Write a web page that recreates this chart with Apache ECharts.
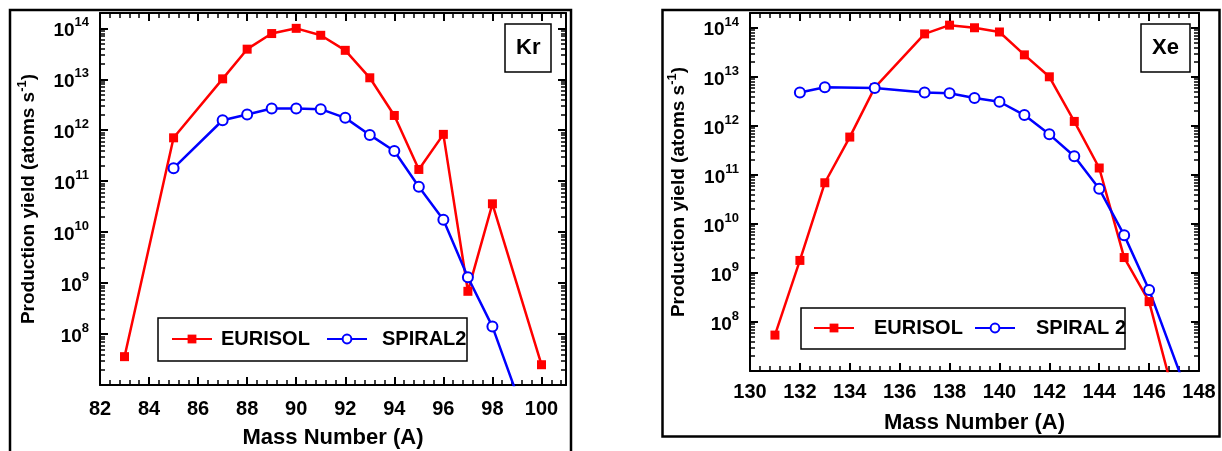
<!DOCTYPE html>
<html><head><meta charset="utf-8">
<script src="https://cdn.jsdelivr.net/npm/echarts@6/dist/echarts.min.js"></script>
<style>html,body{margin:0;padding:0;background:#fff}#c{width:1222px;height:451px}</style>
</head><body><div id="c"></div>
<script>
// ---- Data ----
const krMass = [83, 85, 87, 88, 89, 90, 91, 92, 93, 94, 95, 96, 97, 98, 100];
const krEurisol = [3.6e7, 7.1e11, 1.02e13, 3.9e13, 7.9e13, 1.0e14, 7.3e13, 3.7e13, 1.07e13, 1.95e12, 1.7e11, 8.3e11, 6.9e8, 3.6e10, 2.5e7];
const krSpiralMass = [85, 87, 88, 89, 90, 91, 92, 93, 94, 95, 96, 97, 98, 99];
const krSpiral = [1.8e11, 1.57e12, 2.03e12, 2.67e12, 2.67e12, 2.59e12, 1.75e12, 8.1e11, 3.9e11, 7.8e10, 1.75e10, 1.3e9, 1.4e8, 6.5e6];
const xeMass = [131, 132, 133, 134, 135, 137, 138, 139, 140, 141, 142, 143, 144, 145, 146, 147];
const xeEurisol = [5.4e7, 1.8e9, 6.9e10, 5.9e11, 6.0e12, 7.5e13, 1.13e14, 1.0e14, 8.2e13, 2.8e13, 1.0e13, 1.23e12, 1.38e11, 2.06e9, 2.6e8, 3e6];
const xeSpiralMass = [132, 133, 135, 137, 138, 139, 140, 141, 142, 143, 144, 145, 146, 148];
const xeSpiral = [4.8e12, 6.1e12, 5.9e12, 4.8e12, 4.6e12, 3.7e12, 3.1e12, 1.66e12, 6.7e11, 2.4e11, 5.2e10, 5.9e9, 4.5e8, 8e5];

const krRange = [82, 101];
const xeRange = [130, 148];
const yRange = [1e7, 2e14];
const panelTags = ['Kr', 'Xe'];
const legendNames = [['EURISOL', 'SPIRAL2'], ['EURISOL', 'SPIRAL 2']];
const xTitle = 'Mass Number (A)';

// minor tick positions of the log axis (2..9 x 10^n)
const logMinor = [];
for (let e = 7; e < 14; e++) for (let m = 2; m <= 9; m++) logMinor.push(m * Math.pow(10, e));

const FONT = 'Liberation Sans, Arial, sans-serif';
const zip = (a, b) => a.map((v, i) => [v, b[i]]);

const grids = [
  { left: 100, top: 13, width: 466, height: 372 },
  { left: 750, top: 13, width: 449, height: 358 }
];

function xAxes(gi, range, showMax) {
  const common = {
    type: 'value', gridIndex: gi, min: range[0], max: range[1], interval: 2,
    axisLine: { show: true, onZero: false, lineStyle: { color: '#000', width: 2 } },
    axisTick: { show: true, inside: true, length: 8, lineStyle: { color: '#000', width: 2 } },
    minorTick: { show: true, splitNumber: 5, length: 5, lineStyle: { color: '#000', width: 1.5 } },
    splitLine: { show: false }
  };
  return [
    Object.assign({}, common, {
      position: 'bottom',
      axisLabel: { show: true, showMaxLabel: showMax, margin: gi === 0 ? 14 : 11, color: '#000', fontSize: 20, fontWeight: 'bold', fontFamily: FONT },
      name: xTitle, nameLocation: 'middle', nameGap: gi === 0 ? 42 : 41,
      nameTextStyle: { color: '#000', fontSize: 22, fontWeight: 'bold', fontFamily: FONT }
    }),
    Object.assign({}, common, { position: 'top', axisLabel: { show: false } })
  ];
}

function yAxes(gi) {
  const common = {
    type: 'log', gridIndex: gi, min: yRange[0], max: yRange[1], interval: 1,
    axisLine: { show: true, onZero: false, lineStyle: { color: '#000', width: 2 } },
    axisTick: { show: true, inside: true, length: 8, lineStyle: { color: '#000', width: 2 } },
    splitLine: { show: false }, minorTick: { show: false }
  };
  const minor = {
    axisLine: { show: false, onZero: false }, axisLabel: { show: false },
    axisTick: { show: true, inside: true, length: 5, customValues: logMinor, lineStyle: { color: '#000', width: 1.5 } }
  };
  return [
    Object.assign({}, common, {
      position: 'left',
      axisLabel: {
        show: true, showMinLabel: false, showMaxLabel: false, margin: 11, color: '#000',
        formatter: v => '{b|10}{s|' + Math.round(Math.log10(v)) + '}',
        rich: {
          b: { fontSize: 19, fontWeight: 'bold', color: '#000', fontFamily: FONT, padding: [5, 0, 0, 0] },
          s: { fontSize: 13, fontWeight: 'bold', color: '#000', fontFamily: FONT, padding: [0, 0, 11, 0] }
        }
      },
      name: '{t|Production yield (atoms s}{s|-1}{t|)}', nameLocation: 'middle', nameGap: 59, nameRotate: 90,
      nameTextStyle: {
        rich: {
          t: { fontSize: 19, fontWeight: 'bold', color: '#000', fontFamily: FONT },
          s: { fontSize: 13, fontWeight: 'bold', color: '#000', fontFamily: FONT, padding: [0, 0, 12, 0] }
        }
      }
    }),
    Object.assign({}, common, { position: 'right', axisLabel: { show: false } }),
    Object.assign({}, common, minor, { position: 'left' }),
    Object.assign({}, common, minor, { position: 'right' })
  ];
}

function redSeries(name, xi, yi, data) {
  return {
    name, type: 'line', xAxisIndex: xi, yAxisIndex: yi, data, clip: true,
    symbol: 'rect', symbolSize: 9, showAllSymbol: true,
    lineStyle: { color: '#ff0000', width: 2.5 }, itemStyle: { color: '#ff0000' }
  };
}
function blueSeries(name, xi, yi, data) {
  return {
    name, type: 'line', xAxisIndex: xi, yAxisIndex: yi, data, clip: true,
    symbol: 'emptyCircle', symbolSize: 10, showAllSymbol: true,
    lineStyle: { color: '#0000ff', width: 2.5 }, itemStyle: { color: '#0000ff', borderWidth: 2 }
  };
}
function blueDots(xi, yi, data) {
  return {
    type: 'scatter', xAxisIndex: xi, yAxisIndex: yi, data, clip: true, silent: true,
    symbol: 'circle', symbolSize: 3.5, itemStyle: { color: '#0000ff' }
  };
}

function legendItem(name, left, top, gap) {
  return {
    left, top, padding: 0, orient: 'horizontal', itemWidth: 40, itemHeight: 11, selectedMode: false,
    textStyle: { fontSize: 20, fontWeight: 'bold', color: '#000', fontFamily: FONT, padding: [0, 0, 0, gap] },
    data: [name]
  };
}
function tagTitle(text, left) {
  return {
    text, left, top: 24, padding: [13, 11, 13, 11], borderColor: '#000', borderWidth: 1.5, backgroundColor: '#fff',
    textStyle: { fontSize: 22, fontWeight: 'bold', color: '#000', fontFamily: FONT }
  };
}

const option = {
  animation: false,
  backgroundColor: '#fff',
  grid: grids.map(g => Object.assign({ outerBoundsMode: 'none', containLabel: false }, g)),
  xAxis: [].concat(xAxes(0, krRange, false), xAxes(1, xeRange, true)),
  yAxis: [].concat(yAxes(0), yAxes(1)),
  title: [tagTitle(panelTags[0], 505), tagTitle(panelTags[1], 1141)],
  legend: [
    legendItem(legendNames[0][0], 171, 329, 4),
    legendItem(legendNames[0][1], 326, 329, 10),
    legendItem(legendNames[1][0], 813, 318, 15),
    legendItem(legendNames[1][1], 974, 318, 16)
  ],
  graphic: [
    { type: 'rect', shape: { x: 10, y: 10, width: 561, height: 470 }, style: { fill: null, stroke: '#000', lineWidth: 2.5 }, silent: true, z: 100 },
    { type: 'rect', shape: { x: 662.5, y: 10, width: 557, height: 426.5 }, style: { fill: null, stroke: '#000', lineWidth: 2.5 }, silent: true, z: 100 },
    { type: 'rect', shape: { x: 158, y: 318, width: 309, height: 43 }, style: { fill: '#fff', stroke: '#000', lineWidth: 1.5 }, silent: true, z: 3 },
    { type: 'rect', shape: { x: 801, y: 308, width: 324, height: 41 }, style: { fill: '#fff', stroke: '#000', lineWidth: 1.5 }, silent: true, z: 3 }
  ],
  series: [
    redSeries(legendNames[0][0], 0, 0, zip(krMass, krEurisol)),
    blueSeries(legendNames[0][1], 0, 0, zip(krSpiralMass, krSpiral)),
    blueDots(0, 0, zip(krSpiralMass, krSpiral)),
    redSeries(legendNames[1][0], 2, 4, zip(xeMass, xeEurisol)),
    blueSeries(legendNames[1][1], 2, 4, zip(xeSpiralMass, xeSpiral)),
    blueDots(2, 4, zip(xeSpiralMass, xeSpiral))
  ]
};

const chart = echarts.init(document.getElementById('c'), null, { renderer: 'canvas' });
chart.setOption(option);
</script>
</body></html>
